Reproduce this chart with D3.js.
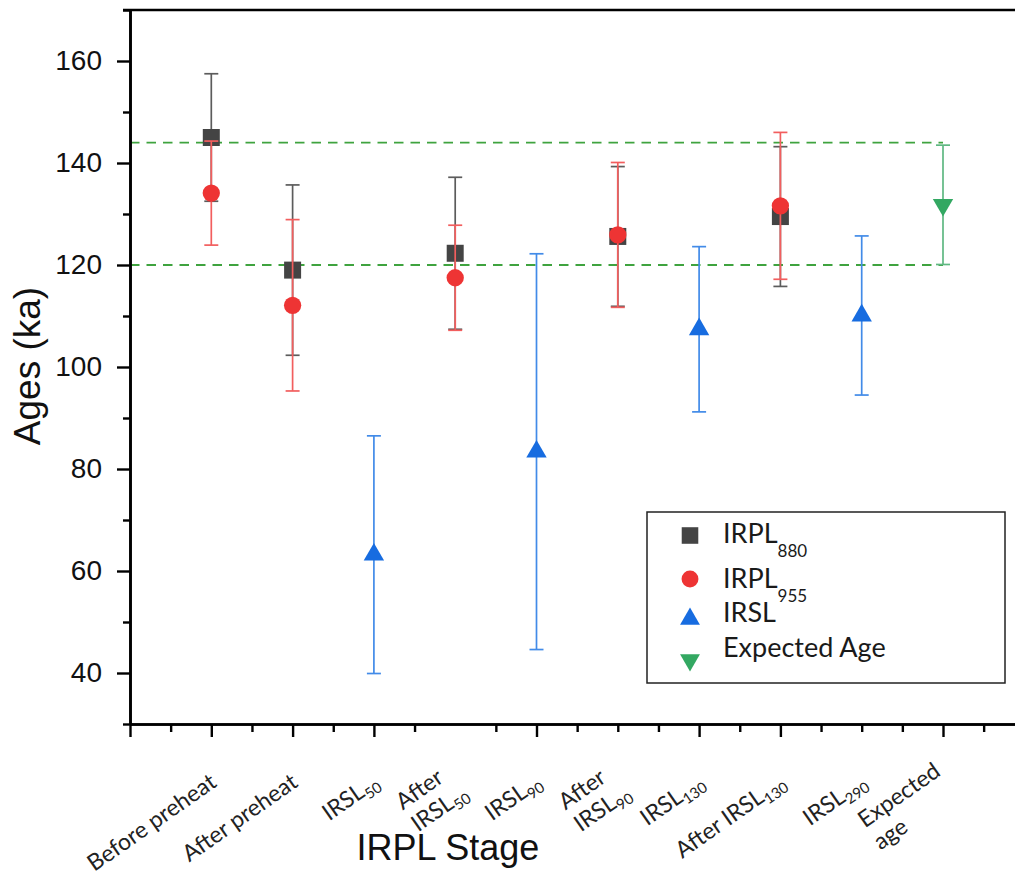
<!DOCTYPE html>
<html>
<head>
<meta charset="utf-8">
<script src="https://cdn.jsdelivr.net/npm/d3@7"></script>
<style>
  html, body { margin: 0; padding: 0; background: #fff; }
  svg { display: block; }
</style>
</head>
<body>
<svg id="grafico" width="1015" height="880"></svg>
<script>
// etapas del eje x: "|" separa renglones y "_" marca el subindice
var etapas = ["Before preheat", "After preheat", "IRSL_50", "After|IRSL_50", "IRSL_90",
  "After|IRSL_90", "IRSL_130", "After IRSL_130", "IRSL_290", "Expected|age"];

// edades (ka) y su error, null donde no hay dato
var irpl880 = [145.0, 119.0, null, 122.3, null, 125.6, null, 129.5, null, null];
var irpl880Err = [12.5, 16.7, null, 14.9, null, 13.7, null, 13.7, null, null];
var irpl955 = [134.1, 112.1, null, 117.5, null, 125.9, null, 131.6, null, null];
var irpl955Err = [10.2, 16.8, null, 10.3, null, 14.2, null, 14.4, null, null];
var irsl = [null, null, 63.2, null, 83.4, null, 107.4, null, 110.1, null];
var irslErr = [null, null, 23.3, null, 38.8, null, 16.2, null, 15.6, null];
var esperada = [null, null, null, null, null, null, null, null, null, 131.8];
var esperadaErr = [null, null, null, null, null, null, null, null, null, 11.7];

// banda de la edad esperada (lineas discontinuas)
var limites = [120, 144];

var ticksY = [40, 60, 80, 100, 120, 140, 160];
var ticksYMenores = [30, 50, 70, 90, 110, 130, 150, 170];
var ticksX = [0, 1, 2, 3, 5, 7, 8, 10];
var ticksXMenores = [0.5, 1.5, 2.5, 3.5, 4.5, 5.5, 6, 6.5, 7.5, 8.5, 9, 9.5, 10.5];

(function () {
  var svg = d3.select("#grafico");
  var FUENTE = "'Liberation Sans', Arial, sans-serif";
  var FUENTE_ET = "Lato, 'Open Sans', sans-serif";

  var x = d3.scaleLinear().domain([0, 11]).range([130, 1024.3]);
  var y = d3.scaleLinear().domain([30, 170]).range([724, 10]);

  var series = [
    { nombre: "IRPL_880", valores: irpl880, errores: irpl880Err, simbolo: d3.symbolSquare, tam: 289, giro: 0, color: "#444444", barra: "#5c5c5c" },
    { nombre: "IRPL_955", valores: irpl955, errores: irpl955Err, simbolo: d3.symbolCircle, tam: 235, giro: 0, color: "#ee3434", barra: "#f25e5e" },
    { nombre: "IRSL", valores: irsl, errores: irslErr, simbolo: d3.symbolTriangle, tam: 180, giro: 0, color: "#176ce0", barra: "#428be8" },
    { nombre: "Expected Age", valores: esperada, errores: esperadaErr, simbolo: d3.symbolTriangle, tam: 180, giro: 180, color: "#33a862", barra: "#5fb882" }
  ];

  // lineas discontinuas de la banda esperada, debajo de todo
  svg.append("g").selectAll("line").data(limites).enter().append("line")
    .attr("x1", x(0)).attr("x2", x(10))
    .attr("y1", function (d) { return y(d); })
    .attr("y2", function (d) { return y(d); })
    .attr("stroke", "#3fa33f").attr("stroke-width", 1.9)
    .attr("stroke-dasharray", "9.5,7");

  // cada serie: barras de error y despues el marcador
  series.forEach(function (s) {
    var puntos = [];
    s.valores.forEach(function (v, i) {
      if (v === null) return;
      puntos.push({ p: i + 1, v: v, e: s.errores[i] });
    });
    var g = svg.append("g");
    var barras = g.selectAll("g.err").data(puntos).enter().append("g").attr("class", "err")
      .attr("stroke", s.barra).attr("stroke-width", 1.7);
    barras.append("line")
      .attr("x1", function (d) { return x(d.p); }).attr("x2", function (d) { return x(d.p); })
      .attr("y1", function (d) { return y(d.v + d.e); }).attr("y2", function (d) { return y(d.v - d.e); });
    [1, -1].forEach(function (signo) {
      barras.append("line")
        .attr("x1", function (d) { return x(d.p) - 7; }).attr("x2", function (d) { return x(d.p) + 7; })
        .attr("y1", function (d) { return y(d.v + signo * d.e); })
        .attr("y2", function (d) { return y(d.v + signo * d.e); });
    });
    g.selectAll("path.marca").data(puntos).enter().append("path").attr("class", "marca")
      .attr("d", d3.symbol().type(s.simbolo).size(s.tam))
      .attr("transform", function (d) {
        return "translate(" + x(d.p) + "," + y(d.v) + ") rotate(" + s.giro + ")";
      })
      .attr("fill", s.color);
  });

  // ejes
  function estilo(g) {
    g.selectAll("path.domain").attr("stroke", "#000").attr("stroke-width", 2.6);
    g.selectAll(".tick line").attr("stroke", "#000").attr("stroke-width", 2.4);
  }

  var ejeY = svg.append("g").attr("transform", "translate(" + x(0) + ",0)")
    .call(d3.axisLeft(y).tickValues(ticksY).tickSize(13).tickSizeOuter(0).tickPadding(15));
  ejeY.selectAll("text").attr("font-family", FUENTE).attr("font-size", 28).attr("fill", "#111");
  estilo(ejeY);
  var ejeYMenor = svg.append("g").attr("transform", "translate(" + x(0) + ",0)")
    .call(d3.axisLeft(y).tickValues(ticksYMenores).tickSize(7).tickSizeOuter(0).tickFormat(""));
  estilo(ejeYMenor);

  var ejeX = svg.append("g").attr("transform", "translate(0," + y(30) + ")")
    .call(d3.axisBottom(x).tickValues(ticksX).tickSize(13).tickSizeOuter(0).tickFormat(""));
  estilo(ejeX);
  var ejeXMenor = svg.append("g").attr("transform", "translate(0," + y(30) + ")")
    .call(d3.axisBottom(x).tickValues(ticksXMenores).tickSize(8).tickSizeOuter(0).tickFormat(""));
  estilo(ejeXMenor);

  // borde de arriba del marco
  svg.append("line")
    .attr("x1", x(0) - 7).attr("x2", x(11)).attr("y1", y(170)).attr("y2", y(170))
    .attr("stroke", "#000").attr("stroke-width", 2.6);

  // texto con subindice opcional
  function escribir(sel, txt, tamSub, bajada) {
    var partes = txt.split("_");
    sel.append("tspan").text(partes[0]);
    if (partes[1]) {
      sel.append("tspan").attr("font-size", tamSub).attr("dy", bajada).text(partes[1]);
    }
  }

  // etiquetas inclinadas del eje x, renglones alineados a la izquierda
  var TAM_ET = 23, INTERLINEA = 27;
  etapas.forEach(function (etapa, i) {
    var renglones = etapa.split("|");
    var g = svg.append("g")
      .attr("transform", "translate(" + (x(i + 1) + 2) + ",779) rotate(-35)");
    var textos = renglones.map(function (r, k) {
      var t = g.append("text")
        .attr("font-family", FUENTE_ET).attr("font-size", TAM_ET).attr("fill", "#222")
        .attr("y", (k - (renglones.length - 1) / 2) * INTERLINEA + 0.35 * TAM_ET);
      escribir(t, r, 15, 5);
      return t;
    });
    var ancho = d3.max(textos, function (t) { return t.node().getComputedTextLength(); });
    textos.forEach(function (t) { t.attr("x", -ancho); });
  });

  // titulos
  svg.append("text").attr("x", 448).attr("y", 860).attr("text-anchor", "middle")
    .attr("font-family", FUENTE).attr("font-size", 36).attr("fill", "#111").text("IRPL Stage");
  svg.append("text").attr("transform", "translate(40,366) rotate(-90)").attr("text-anchor", "middle")
    .attr("font-family", FUENTE).attr("font-size", 37).attr("fill", "#111").text("Ages (ka)");

  // leyenda
  var ley = svg.append("g");
  ley.append("rect").attr("x", 647).attr("y", 512).attr("width", 358).attr("height", 171)
    .attr("fill", "#fff").attr("stroke", "#222").attr("stroke-width", 1.5);
  var filasLey = [
    { base: 543, marca: 535.5 },
    { base: 588, marca: 579 },
    { base: 622, marca: 619 },
    { base: 657, marca: 660 }
  ];
  series.forEach(function (s, k) {
    var f = filasLey[k];
    ley.append("path")
      .attr("d", d3.symbol().type(s.simbolo).size(s.tam * 0.95)())
      .attr("transform", "translate(690," + f.marca + ") rotate(" + s.giro + ")")
      .attr("fill", s.color);
    var t = ley.append("text").attr("x", 723).attr("y", f.base)
      .attr("font-family", FUENTE_ET).attr("font-size", 27).attr("fill", "#1a1a1a");
    escribir(t, s.nombre, 17, 14);
  });
})();
</script>
</body>
</html>
